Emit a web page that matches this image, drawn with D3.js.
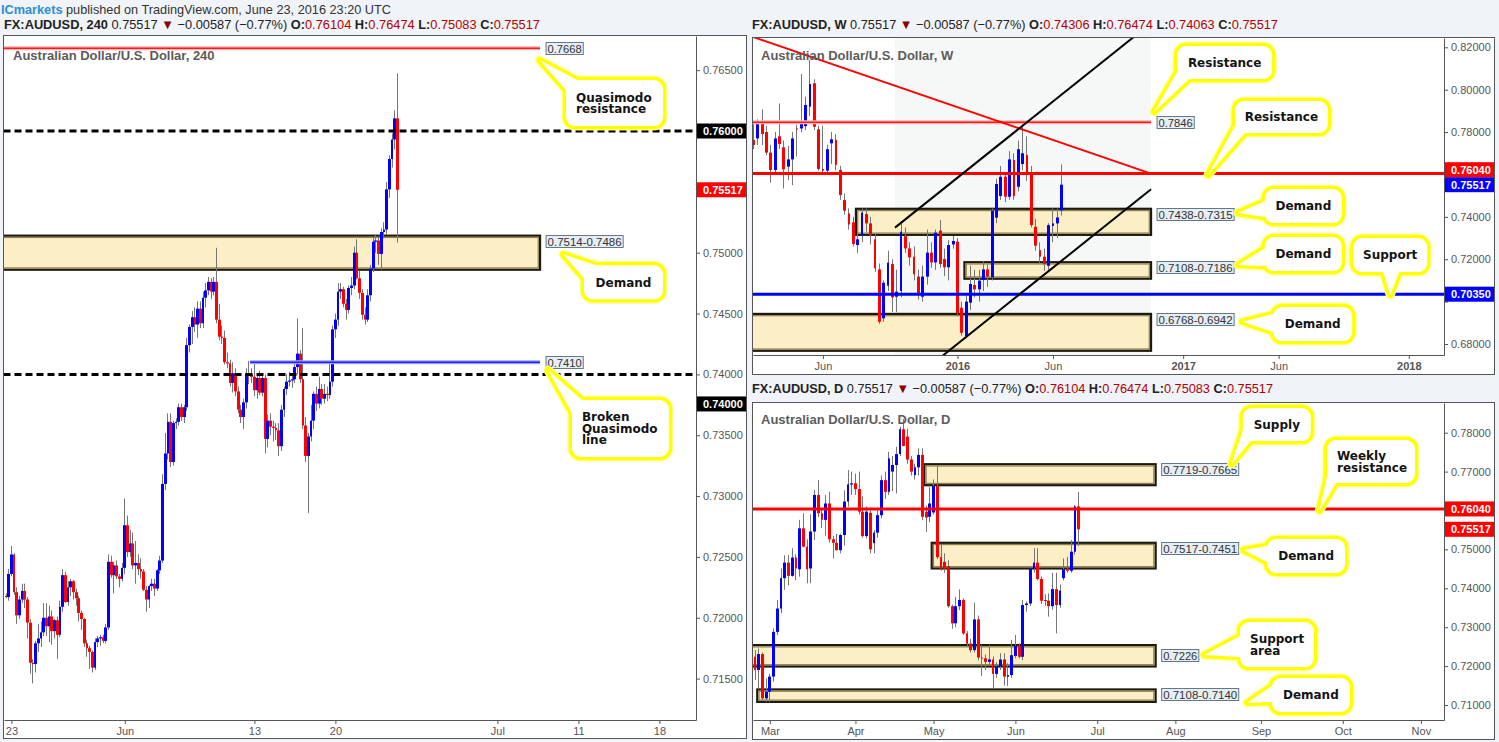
<!DOCTYPE html>
<html><head><meta charset="utf-8">
<script src="https://cdn.jsdelivr.net/npm/d3@7/dist/d3.min.js"></script>
<style>html,body{margin:0;padding:0;background:#f0f3f7;}svg{display:block;}</style>
</head><body>
<svg id="chart" width="1499" height="742"></svg>
<script>
// ================= DATA =================
// 4h candles (AUDUSD 240)
const h4Open = [.7218,.7217,.7236,.7252,.7221,.7202,.7215,.7222,.7215,.7196,
 .7163,.7162,.7179,.7183,.7188,.7200,.7193,.7201,.7189,.7198,
 .7186,.7209,.7235,.7213,.7225,.7230,.7221,.7216,.7204,.7199,
 .7179,.7175,.7172,.7159,.7180,.7183,.7184,.7181,.7192,.7246,
 .7235,.7243,.7234,.7232,.7241,.7276,.7254,.7261,.7243,.7245,
 .7240,.7238,.7223,.7215,.7226,.7228,.7224,.7239,.7247,.7310,
 .7335,.7361,.7328,.7360,.7361,.7373,.7365,.7373,.7424,.7439,
 .7447,.7441,.7454,.7442,.7463,.7469,.7476,.7468,.7476,.7445,
 .7431,.7430,.7410,.7409,.7393,.7401,.7386,.7371,.7365,.7377,
 .7401,.7400,.7398,.7387,.7397,.7385,.7397,.7347,.7362,.7357,
 .7356,.7354,.7341,.7371,.7388,.7394,.7395,.7396,.7406,.7417,
 .7396,.7358,.7333,.7349,.7362,.7384,.7376,.7388,.7380,.7384,
 .7383,.7394,.7437,.7445,.7468,.7470,.7458,.7453,.7471,.7473,
 .7500,.7479,.7467,.7449,.7445,.7465,.7487,.7509,.7510,.7499,
 .7517,.7519,.7552,.7577,.7593,.76104];
const h4High = [.7220,.7240,.7259,.7253,.7225,.7218,.7228,.7228,.7217,.7199,
 .7166,.7181,.7195,.7197,.7212,.7212,.7210,.7206,.7199,.7201,
 .7214,.7240,.7238,.7230,.7232,.7231,.7224,.7218,.7206,.7200,
 .7182,.7177,.7173,.7183,.7185,.7186,.7186,.7195,.7252,.7251,
 .7246,.7247,.7236,.7245,.7298,.7284,.7272,.7270,.7263,.7252,
 .7249,.7240,.7226,.7227,.7232,.7232,.7240,.7251,.7318,.7352,
 .7368,.7368,.7362,.7364,.7376,.7376,.7375,.7430,.7441,.7452,
 .7455,.7460,.7460,.7468,.7475,.7480,.7479,.7480,.7504,.7458,
 .7440,.7436,.7418,.7412,.7410,.7405,.7390,.7375,.7380,.7405,
 .7411,.7405,.7410,.7400,.7403,.7400,.7400,.7367,.7368,.7362,
 .7360,.7360,.7375,.7390,.7400,.7402,.7401,.7410,.7446,.7420,
 .7438,.7365,.7352,.7375,.7386,.7390,.7398,.7392,.7392,.7390,
 .7410,.7440,.7450,.7475,.7475,.7472,.7462,.7473,.7480,.7505,
 .7511,.7485,.7470,.7455,.7470,.7490,.7512,.7515,.7513,.7520,
 .7525,.7558,.7580,.7598,.7617,.76474];
const h4Low = [.7216,.7214,.7234,.7219,.7195,.7199,.7212,.7208,.7183,.7154,
 .7146,.7155,.7172,.7176,.7185,.7185,.7180,.7178,.7183,.7166,
 .7184,.7205,.7212,.7210,.7218,.7215,.7210,.7197,.7190,.7176,
 .7168,.7158,.7155,.7157,.7176,.7177,.7179,.7179,.7190,.7233,
 .7220,.7232,.7225,.7230,.7236,.7250,.7250,.7240,.7228,.7235,
 .7232,.7222,.7205,.7208,.7222,.7218,.7222,.7236,.7245,.7305,
 .7330,.7324,.7325,.7355,.7358,.7362,.7360,.7370,.7418,.7425,
 .7435,.7430,.7438,.7438,.7455,.7465,.7462,.7465,.7442,.7428,
 .7425,.7408,.7405,.7390,.7385,.7382,.7368,.7360,.7355,.7372,
 .7392,.7393,.7382,.7380,.7383,.7382,.7335,.7340,.7350,.7345,
 .7346,.7333,.7337,.7365,.7383,.7390,.7389,.7393,.7400,.7393,
 .7355,.7328,.7286,.7345,.7355,.7370,.7372,.7375,.7376,.7378,
 .7380,.7390,.7430,.7440,.7462,.7455,.7445,.7450,.7465,.7470,
 .7478,.7462,.7445,.7441,.7443,.7460,.7484,.7500,.7490,.7486,
 .7512,.7515,.7545,.7570,.7585,.75083];
const h4Close = [.7217,.7236,.7252,.7221,.7202,.7215,.7222,.7215,.7196,.7163,
 .7162,.7179,.7183,.7188,.7200,.7193,.7201,.7189,.7198,.7186,
 .7209,.7235,.7213,.7225,.7230,.7221,.7216,.7204,.7199,.7179,
 .7175,.7172,.7159,.7180,.7183,.7184,.7181,.7192,.7246,.7235,
 .7243,.7234,.7232,.7241,.7276,.7254,.7261,.7243,.7245,.7240,
 .7238,.7223,.7215,.7226,.7228,.7224,.7239,.7247,.7310,.7335,
 .7361,.7328,.7360,.7361,.7373,.7365,.7373,.7424,.7439,.7447,
 .7441,.7454,.7442,.7463,.7469,.7476,.7468,.7476,.7445,.7431,
 .7430,.7410,.7409,.7393,.7401,.7386,.7371,.7365,.7377,.7401,
 .7400,.7398,.7387,.7397,.7385,.7397,.7347,.7362,.7357,.7356,
 .7354,.7341,.7371,.7388,.7394,.7395,.7396,.7406,.7417,.7396,
 .7358,.7333,.7349,.7362,.7384,.7376,.7388,.7380,.7384,.7383,
 .7394,.7437,.7445,.7468,.7470,.7458,.7453,.7471,.7473,.7500,
 .7479,.7467,.7449,.7445,.7465,.7487,.7509,.7510,.7499,.7517,
 .7519,.7552,.7577,.7593,.76104,.75517];
const h4TickLabels = ["23","Jun","13","20","Jul","11","18"];
const h4TickIdx = [2,44,92,122,182,212,242];
const h4PriceTicks = [0.715,0.72,0.725,0.73,0.735,0.74,0.745,0.75,0.755,0.76,0.765];

// weekly candles
const wOpen = [.7763,.7770,.7844,.7800,.7703,.7621,.7780,.7728,.7637,.7671,
 .7817,.7817,.7828,.7920,.8030,.7813,.7626,.7618,.7747,.7763,
 .7621,.7479,.7416,.7374,.7267,.7311,.7413,.7369,.7294,.7152,
 .6921,.7075,.7177,.7023,.7050,.7309,.7251,.7212,.7118,.7023,
 .7118,.7231,.7185,.7335,.7201,.7162,.7270,.7283,.6971,.6835,
 .6995,.7078,.7058,.7102,.7152,.7114,.7396,.7498,.7589,.7495,
 .7668,.7542,.7649,.7692,.7605,.7353,.7243,.7212,.7169,.7357,
 .7369,.74306];
const wHigh = [.7841,.7860,.7907,.7829,.7740,.7800,.7935,.7760,.7734,.7800,
 .7835,.8074,.7967,.8140,.8049,.7830,.7830,.7740,.7800,.7790,
 .7640,.7510,.7440,.7400,.7330,.7440,.7440,.7400,.7320,.7180,
 .7100,.7240,.7200,.7150,.7380,.7350,.7280,.7260,.7150,.7170,
 .7340,.7280,.7340,.7385,.7250,.7290,.7310,.7300,.7000,.7030,
 .7170,.7150,.7150,.7190,.7175,.7440,.7580,.7640,.7600,.7710,
 .7700,.7760,.7835,.7780,.7640,.7390,.7280,.7250,.7370,.7440,
 .7440,.76474];
const wLow = [.7720,.7739,.7739,.7690,.7561,.7597,.7720,.7534,.7574,.7550,
 .7684,.7800,.7810,.7876,.7810,.7618,.7597,.7600,.7650,.7620,
 .7480,.7410,.7340,.7260,.7230,.7280,.7330,.7270,.7140,.6895,
 .6905,.7050,.6950,.6950,.7020,.7230,.7170,.7100,.7010,.7000,
 .7080,.7160,.7150,.7160,.7120,.7100,.7250,.6930,.6840,.6827,
 .6960,.7020,.7000,.7050,.7070,.7100,.7370,.7480,.7470,.7480,
 .7480,.7520,.7620,.7570,.7350,.7240,.7180,.7145,.7150,.7280,
 .7300,.74063];
const wClose = [.7739,.7844,.7791,.7703,.7621,.7770,.7744,.7624,.7671,.7770,
 .7813,.7838,.7928,.8027,.7825,.7626,.7618,.7719,.7766,.7645,
 .7503,.7429,.7364,.7272,.7294,.7420,.7369,.7314,.7157,.6905,
 .7089,.7184,.7020,.7047,.7330,.7251,.7209,.7129,.7031,.7118,
 .7231,.7185,.7325,.7177,.7162,.7267,.7286,.6945,.6853,.7000,
 .7083,.7058,.7099,.7152,.7118,.7429,.7555,.7589,.7495,.7671,
 .7498,.7719,.7700,.7597,.7361,.7264,.7212,.7177,.7361,.7369,
 .7397,.75517];
const wTickLabels = ["Jun","2016","Jun","2017","Jun","2018"];
const wTickIdx = [16,47,69,99,121,151];
const wPriceTicks = [0.68,0.70,0.72,0.74,0.76,0.78,0.80,0.82];

// daily candles
const dOpen = [.7224,.7190,.7231,.7117,.7134,.7173,.7288,.7348,.7426,.7466,
 .7432,.7479,.7449,.7554,.7507,.7451,.7546,.7640,.7593,.7576,
 .7618,.7526,.7517,.7498,.7537,.7623,.7667,.7670,.7655,.7597,
 .7534,.7594,.7516,.7543,.7588,.7678,.7648,.7700,.7717,.7745,
 .7809,.7790,.7731,.7691,.7711,.7743,.7597,.7584,.7595,.7663,
 .7480,.7468,.7457,.7354,.7310,.7354,.7370,.7284,.7258,.7241,
 .7320,.7222,.7220,.7211,.7217,.7180,.7199,.7217,.7173,.7177,
 .7226,.7252,.7224,.7357,.7361,.7451,.7466,.7424,.7370,.7368,
 .7354,.7398,.7357,.7426,.7449,.7445,.7494,.76104];
const dHigh = [.7241,.7245,.7235,.7168,.7180,.7297,.7370,.7451,.7485,.7486,
 .7503,.7487,.7576,.7593,.7526,.7590,.7653,.7678,.7606,.7640,
 .7648,.7535,.7540,.7540,.7652,.7704,.7700,.7695,.7700,.7636,
 .7610,.7600,.7550,.7600,.7690,.7700,.7751,.7740,.7764,.7815,
 .7835,.7810,.7740,.7720,.7760,.7760,.7612,.7660,.7680,.7714,
 .7512,.7490,.7472,.7358,.7378,.7397,.7374,.7290,.7270,.7363,
 .7330,.7254,.7230,.7254,.7225,.7210,.7233,.7233,.7207,.7267,
 .7280,.7259,.7370,.7366,.7456,.7503,.7503,.7430,.7385,.7387,
 .7440,.7440,.7410,.7477,.7481,.7524,.7614,.76474];
const dLow = [.7164,.7143,.7113,.7108,.7108,.7160,.7280,.7336,.7396,.7408,
 .7430,.7421,.7430,.7505,.7413,.7413,.7524,.7583,.7555,.7535,
 .7517,.7477,.7497,.7490,.7510,.7610,.7640,.7640,.7590,.7530,
 .7528,.7490,.7490,.7530,.7580,.7630,.7640,.7650,.7644,.7740,
 .7765,.7720,.7690,.7680,.7690,.7575,.7545,.7570,.7590,.7475,
 .7445,.7440,.7350,.7296,.7300,.7344,.7280,.7250,.7235,.7235,
 .7215,.7175,.7190,.7200,.7143,.7170,.7190,.7150,.7149,.7170,
 .7220,.7220,.7215,.7340,.7355,.7440,.7420,.7360,.7355,.7327,
 .7345,.7284,.7350,.7420,.7440,.7440,.7487,.75083];
const dClose = [.7190,.7231,.7117,.7134,.7173,.7288,.7348,.7426,.7466,.7432,
 .7479,.7451,.7554,.7507,.7449,.7546,.7640,.7593,.7576,.7618,
 .7526,.7517,.7498,.7537,.7623,.7667,.7670,.7655,.7597,.7534,
 .7597,.7500,.7543,.7588,.7678,.7648,.7734,.7717,.7745,.7809,
 .7766,.7731,.7700,.7711,.7743,.7584,.7582,.7618,.7663,.7480,
 .7449,.7449,.7354,.7310,.7354,.7370,.7284,.7258,.7241,.7320,
 .7222,.7220,.7211,.7217,.7180,.7199,.7217,.7173,.7177,.7228,
 .7252,.7224,.7357,.7361,.7451,.7466,.7424,.7368,.7368,.7354,
 .7398,.7357,.7394,.7449,.7445,.7494,.76104,.75517];
const dTickLabels = ["Mar","Apr","May","Jun","Jul","Aug","Sep","Oct","Nov"];
const dTickIdx = [4,27,48,70,92,113,136,158,179];
const dPriceTicks = [0.71,0.72,0.73,0.74,0.75,0.76,0.77,0.78];

// zones [top, bottom, startIdx, endIdx, label, labelPrice]
const h4Zones = [[0.7514,0.7486,-5,197.8,"0.7514-0.7486",null]];
const wZones = [[0.7438,0.7315,23.6,91.6,"0.7438-0.7315",null],
                [0.7186,0.7108,48.6,91.6,"0.7108-0.7186",null],
                [0.6942,0.6768,-5,91.6,"0.6768-0.6942",null]];
const dZones = [[0.7719,0.7665,45.5,107.7,"0.7719-0.7665",null],
                [0.7517,0.7451,47.5,107.7,"0.7517-0.7451",null],
                [0.7254,0.7199,-5,107.7,"0.7226",0.7226],
                [0.7140,0.7108,0.6,107.7,"0.7108-0.7140",null]];
// horizontal levels [price, startIdx, endIdx, style, label]
const h4Levels = [[0.7668,-5,197.8,"thinRed","0.7668"],[0.76,-5,300,"dash",null],
                  [0.74,-5,300,"dash",null],[0.7410,90.4,197.8,"thinBlue","0.7410"]];
const wLevels = [[0.7846,-5,91.6,"thinRed","0.7846"],[0.7604,-5,200,"thickRed",null],
                 [0.7035,-5,200,"thickBlue",null]];
const dLevels = [[0.7604,-5,200,"thickRed",null]];
// trend lines [[i0,p0],[i1,p1], colour]
const wTrends = [[[0,0.8248],[91.6,0.7604],"#ff0000"],
                 [[32.6,0.7349],[91.6,0.8314],"#000000"],
                 [[32.6,0.6565],[91.6,0.7530],"#000000"]];
const wShade = [32.6,91.6];
// axis price boxes [price, text, colour]
const h4AxisBoxes = [[0.76,"0.76000","#000000"],[0.75517,"0.75517","#ff0000"],[0.73757,"0.74000","#000000"]];
const wAxisBoxes = [[0.7604,"0.76040","#ff0000"],[0.75517,"0.75517","#0000ff"],[0.7035,"0.70350","#0000ff"]];
const dAxisBoxes = [[0.7604,"0.76040","#ff0000"],[0.75517,"0.75517","#ff0000"]];
// callouts: tip [idx, price], box offset from tip [dx,dy,w,h], tail base (box-relative), text lines
const h4Callouts = [
  [[197.6,0.76583],[26.5,20,97,46],[[11,0],[0,10]],["Quasimodo","resistance"]],
  [[206.3,0.74987],[21,11,79,34],[[12,0],[0,13]],["Demand"]],
  [[200.7,0.74036],[24,30,97,57],[[10,0],[0,13]],["Broken","Quasimodo","line"]]];
const wCallouts = [
  [[92.3,0.7896],[23,-65.7,95,33],[[0,26],[12,33]],["Resistance"]],
  [[104.7,0.75974],[27,-74,93,32],[[0,25],[10,32]],["Resistance"]],
  [[111.6,0.7418],[27,-24,77,34],[[0,12],[0,28]],["Demand"]],
  [[111.6,0.71726],[27,-28,77,34],[[0,11],[0,29]],["Demand"]],
  [[146.7,0.7031],[-37,-57,74,34],[[30,34],[46,34]],["Support"]],
  [[112.6,0.6905],[31,-14.7,79,34],[[0,7],[0,25]],["Demand"]]];
const dCallouts = [
  [[128.1,0.77195],[11.3,-56,68,33],[[0,22],[8,33]],["Supply"]],
  [[151.7,0.75995],[7.7,-70.7,88,43],[[0,36],[9,43]],["Weekly","resistance"]],
  [[131.3,0.74985],[23.7,-11,78,34],[[0,7],[0,23]],["Demand"]],
  [[120.7,0.72285],[36,-33,74,45],[[0,14],[0,35]],["Support","area"]],
  [[132.3,0.71059],[24.7,-24.7,78,34],[[0,8],[0,24]],["Demand"]]];
const changeText = " \u22120.00587 (\u22120.77%) ";

// ================= DRAWING =================
const svg = d3.select('#chart');
const SANS = "'Liberation Sans', Arial, Helvetica, sans-serif";
const VER = "'DejaVu Sans', Verdana, sans-serif";
const defs = svg.append('defs');

// header
const hdr = svg.append('text').attr('x',1).attr('y',13.5).attr('font-family',SANS).attr('font-size',13)
  .attr('textLength',390).attr('lengthAdjust','spacingAndGlyphs');
hdr.append('tspan').attr('fill','#2b8fd6').attr('font-weight','bold').text('ICmarkets');
hdr.append('tspan').attr('fill','#333').text(' published on TradingView.com, June 23, 2016 23:20 UTC');

function title(x, y, tf, O, H, L, C, len) {
  const n = O.length - 1;
  const f = d3.format('.5f');
  const t = svg.append('text').attr('x',x).attr('y',y).attr('font-family',SANS).attr('font-size',13)
    .attr('fill','#222').attr('textLength',len).attr('lengthAdjust','spacingAndGlyphs');
  t.append('tspan').attr('font-weight','bold').text(`FX:AUDUSD, ${tf}`);
  t.append('tspan').text(`  ${f(C[n])} `);
  t.append('tspan').attr('fill','#8b0000').text('\u25BC');
  t.append('tspan').text(changeText);
  [['O:',O[n]],['H:',H[n]],['L:',L[n]],['C:',C[n]]].forEach(([k,v]) => {
    t.append('tspan').attr('font-weight','bold').text(' '+k);
    t.append('tspan').attr('fill','#b00000').text(f(v));
  });
}

function drawPanel(cfg) {
  const P = cfg.plot, OU = cfg.outer;
  const xb = d3.scaleLinear().domain([0,1]).range([cfg.x0, cfg.x0+cfg.step]);
  const x = d3.scaleLinear().domain([xb.invert(P.l), xb.invert(P.r)]).range([P.l, P.r]);
  const yb = d3.scaleLinear().domain(cfg.yAnchor.map(a=>a[0])).range(cfg.yAnchor.map(a=>a[1]));
  const y = d3.scaleLinear().domain([yb.invert(P.b), yb.invert(P.t)]).range([P.b, P.t]);
  const g = svg.append('g');
  g.append('rect').attr('x',OU.l+0.5).attr('y',OU.t+0.5).attr('width',OU.r-OU.l-1).attr('height',OU.b-OU.t-1)
    .attr('fill','#fff').attr('stroke','#555');
  const cid = 'clip'+cfg.id;
  defs.append('clipPath').attr('id',cid).append('rect').attr('x',P.l).attr('y',P.t).attr('width',P.r-P.l).attr('height',P.b-P.t);
  const pg = g.append('g').attr('clip-path',`url(#${cid})`);
  if (cfg.shade) pg.append('rect').attr('x',x(cfg.shade[0])).attr('y',P.t).attr('width',x(cfg.shade[1])-x(cfg.shade[0]))
      .attr('height',P.b-P.t).attr('fill','#f5f8f6');
  // zones
  cfg.zones.forEach(z => {
    const x0 = x(z[2]), x1 = x(z[3]), y0 = y(z[0]), y1 = y(z[1]);
    pg.append('rect').attr('x',x0).attr('y',y0).attr('width',x1-x0).attr('height',y1-y0)
      .attr('fill','#fcefc6').attr('stroke','#1c1a10').attr('stroke-width',2.2);
    pg.append('rect').attr('x',x0+1.8).attr('y',y0+1.8).attr('width',x1-x0-3.6).attr('height',y1-y0-3.6)
      .attr('fill','none').attr('stroke','#8f7f4c').attr('stroke-width',1.2);
  });
  // candles
  const idx = d3.range(cfg.o.length);
  pg.append('g').selectAll('line').data(idx).join('line')
    .attr('x1',i=>Math.floor(x(i))+0.5).attr('x2',i=>Math.floor(x(i))+0.5)
    .attr('y1',i=>y(cfg.h[i])).attr('y2',i=>y(cfg.l[i])).attr('stroke','#757575').attr('stroke-width',1);
  pg.append('g').selectAll('rect').data(idx).join('rect')
    .attr('x',i=>Math.round(x(i)-cfg.bw/2))
    .attr('width',i=>Math.max(1,Math.round(x(i)+cfg.bw/2)-Math.round(x(i)-cfg.bw/2)))
    .attr('y',i=>Math.min(y(cfg.o[i]),y(cfg.c[i])))
    .attr('height',i=>Math.max(1,Math.abs(y(cfg.o[i])-y(cfg.c[i]))))
    .attr('fill',i=>cfg.c[i]>=cfg.o[i]?'#0000ff':'#ff0000');
  // levels
  cfg.levels.forEach(l => {
    const yy = y(l[0]), x0 = x(l[1]), x1 = x(l[2]);
    const add = (col,w,dash) => { const ln = pg.append('line').attr('x1',x0).attr('x2',x1).attr('y1',yy).attr('y2',yy)
      .attr('stroke',col).attr('stroke-width',w); if (dash) ln.attr('stroke-dasharray',dash); };
    if (l[3]==='dash') add('#000',3,'7,4');
    else if (l[3]==='thinRed') { add('#ffb3b3',4); add('#ff1a1a',1.6); }
    else if (l[3]==='thinBlue') { add('#a0a0ff',4); add('#2020ff',1.6); }
    else if (l[3]==='thickRed') add('#ff0000',3);
    else if (l[3]==='thickBlue') add('#0000ff',3);
  });
  (cfg.trends||[]).forEach(t => {
    pg.append('line').attr('x1',x(t[0][0])).attr('y1',y(t[0][1])).attr('x2',x(t[1][0])).attr('y2',y(t[1][1]))
      .attr('stroke',t[2]).attr('stroke-width',2);
  });
  // axis price boxes (positions computed first so hidden tick texts can be left out)
  const boxes = cfg.axisBoxes.map(b => ({p:b[0], txt:b[1], col:b[2], yc:y(b[0])})).sort((a,b)=>b.yc-a.yc);
  for (let k=1;k<boxes.length;k++) if (boxes[k-1].yc - boxes[k].yc < 15) boxes[k].yc = boxes[k-1].yc - 15;
  const hidden = v => boxes.some(b => Math.abs(y(v) - b.yc) < 9.5);
  // axes
  const ya = g.append('g').attr('transform',`translate(${P.r},0)`)
    .call(d3.axisRight(y).tickValues(cfg.pTicks).tickFormat(v => hidden(v) ? '' : d3.format('.5f')(v)).tickSize(4).tickSizeOuter(0));
  const xa = g.append('g').attr('transform',`translate(0,${P.b})`)
    .call(d3.axisBottom(x).tickValues(cfg.tIdx).tickFormat((d,i)=>cfg.tLab[i]).tickSize(4).tickSizeOuter(0));
  ya.selectAll('.tick text').filter(function(){ return this.textContent === ''; }).remove();
  [ya,xa].forEach(a => {
    a.select('.domain').attr('stroke','#555');
    a.selectAll('.tick line').attr('stroke','#555');
    a.selectAll('.tick text').attr('fill','#555').attr('font-family',SANS).attr('font-size',11);
  });
  xa.selectAll('.tick text').attr('font-weight',d => /^\d{4}$/.test(cfg.tLab[cfg.tIdx.indexOf(d)]) ? 'bold' : null);
  // value label boxes
  const valBox = (xl, yc, txt) => {
    const w = txt.length*5.7;
    g.append('rect').attr('x',xl+0.5).attr('y',Math.round(yc-6.5)+0.5).attr('width',w+3).attr('height',12)
      .attr('fill','#e6edf3').attr('stroke','#62798b');
    g.append('text').attr('x',xl+2).attr('y',Math.round(yc-6.5)+10.5).attr('font-family',SANS).attr('font-size',11)
      .attr('fill','#333').attr('textLength',w).attr('lengthAdjust','spacingAndGlyphs').text(txt);
  };
  cfg.zones.forEach(z => valBox(x(z[3])+5.5, z[5]!=null ? y(z[5]) : y(z[0])+5.5, z[4]));
  cfg.levels.forEach(l => { if (l[4]) valBox(x(l[2])+5.5, y(l[0]), l[4]); });
  // callouts
  cfg.callouts.forEach(c => {
    const tx = x(c[0][0]), ty = y(c[0][1]);
    const bx = tx + c[1][0], by = ty + c[1][1], bw = c[1][2], bh = c[1][3];
    const p1 = [bx+c[2][0][0], by+c[2][0][1]], p2 = [bx+c[2][1][0], by+c[2][1][1]];
    const tri = `M${p1[0]},${p1[1]}L${tx},${ty}L${p2[0]},${p2[1]}Z`;
    const cg = g.append('g');
    [['#ffff99',9],['#ffff00',6.5]].forEach(([col,w]) => {
      cg.append('path').attr('d',tri).attr('fill','none').attr('stroke',col).attr('stroke-width',w).attr('stroke-linejoin','round');
      cg.append('rect').attr('x',bx).attr('y',by).attr('width',bw).attr('height',bh).attr('rx',9)
        .attr('fill','none').attr('stroke',col).attr('stroke-width',w);
    });
    cg.append('path').attr('d',tri).attr('fill','#fff');
    cg.append('rect').attr('x',bx).attr('y',by).attr('width',bw).attr('height',bh).attr('rx',9).attr('fill','#fff');
    const lines = c[3], n = lines.length;
    const t = cg.append('text').attr('font-family',VER).attr('font-weight','bold').attr('font-size',12).attr('fill','#141414');
    lines.forEach((s,k) => {
      const ts = t.append('tspan').attr('y', by + bh/2 - (n-1)*11.6/2 + k*11.6 + 4.4).text(s);
      if (n===1) ts.attr('x', bx+bw/2).attr('text-anchor','middle'); else ts.attr('x', bx+10);
    });
  });
  boxes.forEach(b => {
    g.append('rect').attr('x',P.r+1).attr('y',b.yc-7.5).attr('width',OU.r-P.r-2).attr('height',15).attr('fill',b.col);
    g.append('text').attr('x',P.r+7).attr('y',b.yc+4).attr('font-family',SANS).attr('font-size',11)
      .attr('font-weight','bold').attr('fill','#fff').text(b.txt);
  });
  // inner title
  g.append('text').attr('x',cfg.tt[0]).attr('y',cfg.tt[1]).attr('font-family',SANS).attr('font-size',13)
    .attr('font-weight','bold').attr('fill','#5c5c5c').text(cfg.innerTitle);
}

title(4, 28.5, '240', h4Open, h4High, h4Low, h4Close, 536);
title(752, 28.5, 'W', wOpen, wHigh, wLow, wClose, 526);
title(752, 392.5, 'D', dOpen, dHigh, dLow, dClose, 521);

drawPanel({id:'h4', outer:{l:3,t:35,r:747,b:739}, plot:{l:4,t:36,r:696,b:720},
  x0:6, step:2.7, yAnchor:[[0.76,131],[0.715,678.6]], bw:2.8,
  o:h4Open, h:h4High, l:h4Low, c:h4Close, zones:h4Zones, levels:h4Levels,
  pTicks:h4PriceTicks, tIdx:h4TickIdx, tLab:h4TickLabels, callouts:h4Callouts, axisBoxes:h4AxisBoxes,
  innerTitle:'Australian Dollar/U.S. Dollar, 240', tt:[13,60]});
drawPanel({id:'w', outer:{l:752,t:37,r:1495,b:375}, plot:{l:753,t:38,r:1444,b:355},
  x0:753.5, step:4.34, yAnchor:[[0.82,47.3],[0.68,344]], bw:2.8,
  o:wOpen, h:wHigh, l:wLow, c:wClose, zones:wZones, levels:wLevels, trends:wTrends, shade:wShade,
  pTicks:wPriceTicks, tIdx:wTickIdx, tLab:wTickLabels, callouts:wCallouts, axisBoxes:wAxisBoxes,
  innerTitle:'Australian Dollar/U.S. Dollar, W', tt:[761,60]});
drawPanel({id:'d', outer:{l:752,t:402,r:1495,b:740}, plot:{l:753,t:403,r:1444,b:720},
  x0:755, step:3.72, yAnchor:[[0.78,432.7],[0.71,705]], bw:2.8,
  o:dOpen, h:dHigh, l:dLow, c:dClose, zones:dZones, levels:dLevels,
  pTicks:dPriceTicks, tIdx:dTickIdx, tLab:dTickLabels, callouts:dCallouts, axisBoxes:dAxisBoxes,
  innerTitle:'Australian Dollar/U.S. Dollar, D', tt:[761,424]});
</script>
</body></html>
